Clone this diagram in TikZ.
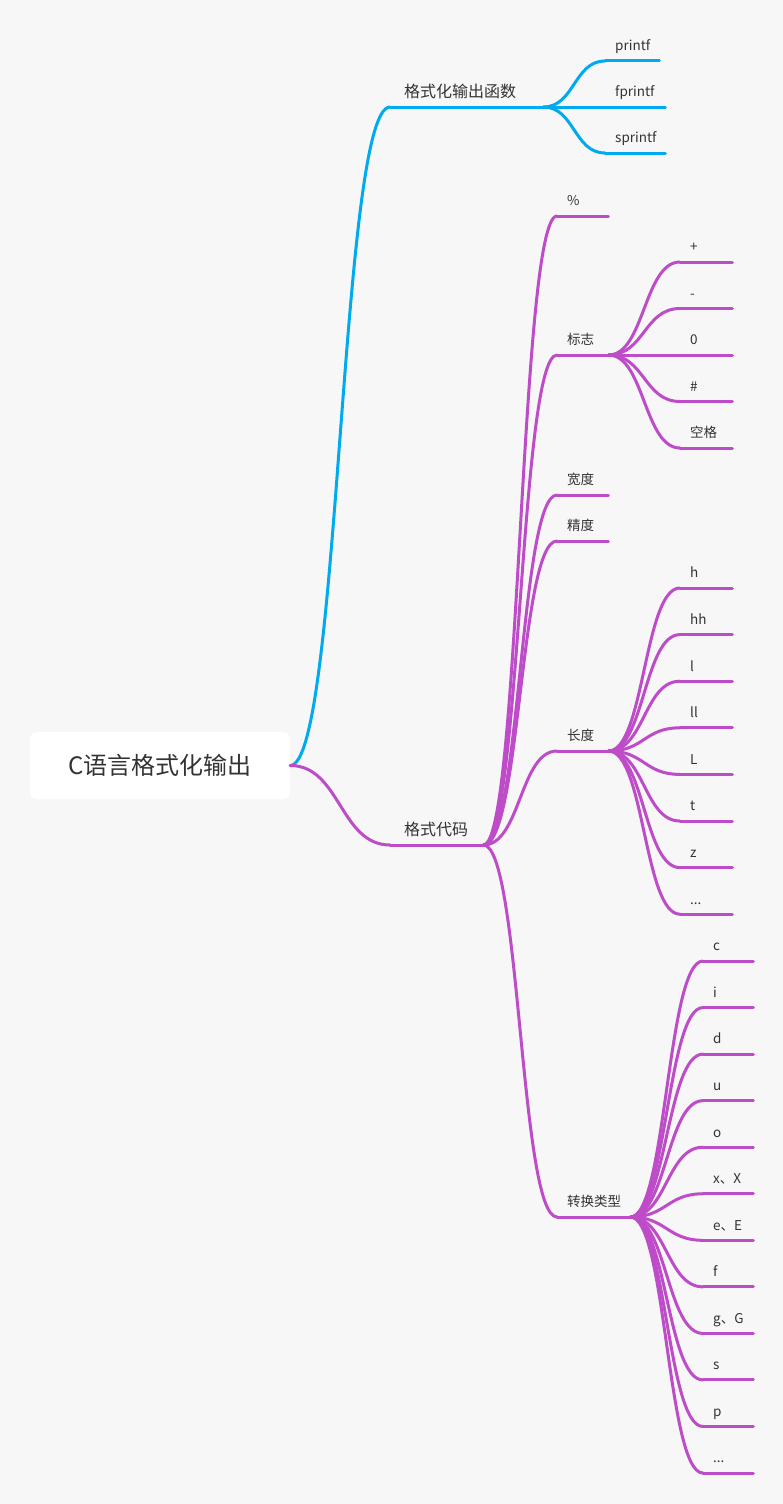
\documentclass[tikz,border=0pt]{standalone}
\usepackage{fontspec}
\setmainfont{Noto Sans CJK SC}

\definecolor{mapblue}{RGB}{0,170,238}
\definecolor{mappurple}{RGB}{190,76,200}
\definecolor{maptext}{RGB}{51,51,51}
\definecolor{mapbg}{RGB}{247,247,247}
\newcommand{\etc}{...}

\begin{document}
\begin{tikzpicture}[x=1pt, y=-1pt,
  root/.style={fill=white, rounded corners=7pt, minimum width=260pt, minimum height=67pt,
    font=\fontsize{24}{28}\selectfont, text=maptext},
  main/.style={anchor=south west, inner xsep=14pt, inner ysep=9pt, text depth=0pt,
    align=left, font=\fontsize{16}{18}\selectfont, text=maptext},
  sub/.style={anchor=south west, inner xsep=10pt, inner ysep=10pt, text depth=0pt,
    align=left, text width=#1, font=\fontsize{13.5}{15}\selectfont, text=maptext},
  sub/.default=32pt,
  bluelink/.style={draw=mapblue, line width=3pt, line cap=round},
  purplelink/.style={draw=mappurple, line width=3pt, line cap=round}
]
  \fill[mapbg] (0,0) rectangle (783,1504);

  \node[root] (root) at (160,765.5) {C语言格式化输出};
  \node[main, text width=125pt] (fn) at (390,107) {格式化输出函数};
  \node[main, text width=65pt] (code) at (390,845) {格式代码};

  % output functions
  \foreach \n/\y/\w/\t in {pf/61/34/printf, fpf/107/40/fprintf, spf/153/40/sprintf}
    \node[sub=\w pt] (\n) at (605,\y) {\t};

  % parts of a format code
  \foreach \n/\y/\w/\t in {pct/216/31/\%, flag/355/31/标志, wid/495/31/宽度,
    prec/541/31/精度, len/751/31/长度, conv/1217/53/转换类型}
    \node[sub=\w pt] (\n) at (557,\y) {\t};

  \foreach \t [count=\i from 0] in {+,-,0,\#,空格}
    \node[sub] (flag\i) at (680,262+46.5*\i) {\t};
  \foreach \t [count=\i from 0] in {h,hh,l,ll,L,t,z,\etc}
    \node[sub] (len\i) at (680,588+46.6*\i) {\t};
  \foreach \t [count=\i from 0] in {c,i,d,u,o,x、X,e、E,f,g、G,s,p,\etc}
    \node[sub=30pt] (conv\i) at (703,961+46.55*\i) {\t};

  % underlines
  \foreach \n in {fn,pf,fpf,spf}
    \draw[bluelink] (\n.south west) -- (\n.south east);
  \foreach \n in {code,pct,flag,wid,prec,len,conv}
    \draw[purplelink] (\n.south west) -- (\n.south east);
  \foreach \i in {0,...,4}
    \draw[purplelink] (flag\i.south west) -- (flag\i.south east);
  \foreach \i in {0,...,7}
    \draw[purplelink] (len\i.south west) -- (len\i.south east);
  \foreach \i in {0,...,11}
    \draw[purplelink] (conv\i.south west) -- (conv\i.south east);

  % branches
  \draw[bluelink] (root.east) .. controls +(50,0) and +(-50,0) .. (fn.south west);
  \draw[purplelink] (root.east) .. controls +(50,0) and +(-50,0) .. (code.south west);
  \foreach \c in {pf,fpf,spf}
    \draw[bluelink] (fn.south east) .. controls +(31,0) and +(-31,0) .. (\c.south west);
  \foreach \c in {pct,flag,wid,prec,len,conv}
    \draw[purplelink] (code.south east) .. controls +(37,0) and +(-37,0) .. (\c.south west);
  \foreach \i in {0,...,4}
    \draw[purplelink] (flag.south east) .. controls +(36,0) and +(-36,0) .. (flag\i.south west);
  \foreach \i in {0,...,7}
    \draw[purplelink] (len.south east) .. controls +(36,0) and +(-36,0) .. (len\i.south west);
  \foreach \i in {0,...,11}
    \draw[purplelink] (conv.south east) .. controls +(36,0) and +(-36,0) .. (conv\i.south west);
\end{tikzpicture}
\end{document}
